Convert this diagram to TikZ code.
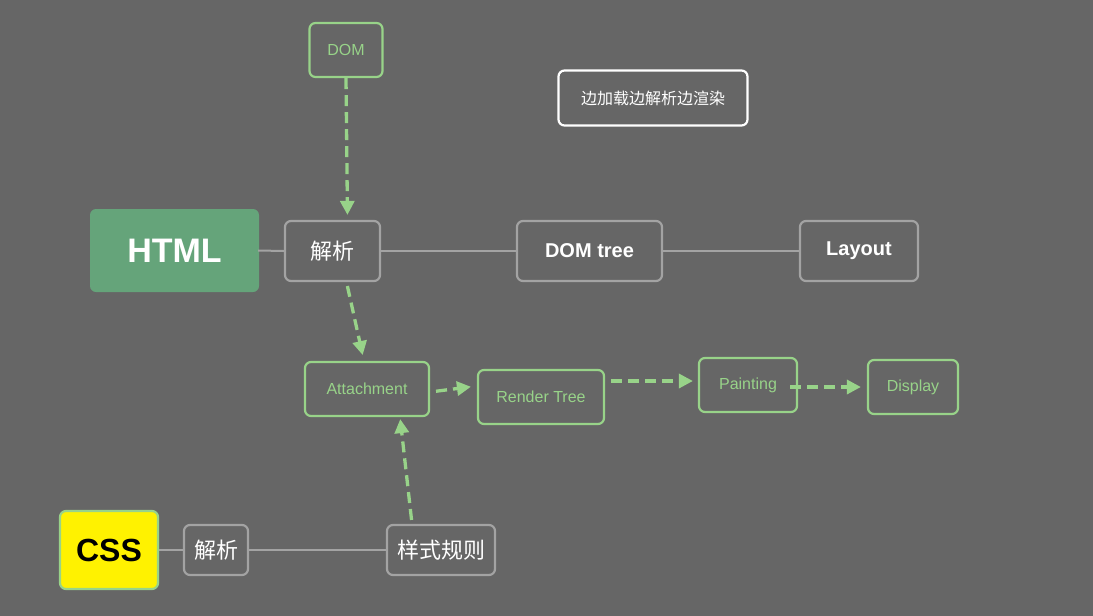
\documentclass[tikz,border=0pt]{standalone}
\usepackage{fontspec}
\setmainfont{Liberation Sans}
\newfontfamily\cjk{Noto Sans CJK SC}
\usetikzlibrary{arrows.meta,calc}
\definecolor{bg}{HTML}{666666}
\definecolor{grn}{HTML}{98D389}
\definecolor{gry}{HTML}{A3A3A3}
\definecolor{htmlfill}{HTML}{65A47A}
\tikzset{
  box/.style={draw=gry,line width=2.2pt,rounded corners=6pt,inner sep=0pt,text=white},
  gbox/.style={draw=grn,line width=2.2pt,rounded corners=6pt,inner sep=0pt,text=grn,font=\fontsize{16}{18}\selectfont},
  link/.style={draw=gry,line width=2pt},
  flow/.style={draw=grn,line width=3.3pt,dash pattern=on 11pt off 6pt,-{Triangle[length=14pt,width=14pt]}},
}
\begin{document}
\begin{tikzpicture}[x=1pt,y=-1pt]
\fill[bg] (0,0) rectangle (1093,616);
\useasboundingbox (0,0) rectangle (1093,616);
% nodes
\node[gbox,minimum width=73pt,minimum height=54pt] (dom) at (346,50) {DOM};
\node[draw=white,line width=2.2pt,rounded corners=6pt,minimum width=189pt,minimum height=55pt,text=white,font=\cjk\fontsize{16}{18}\selectfont] (note) at (653,98) {边加载边解析边渲染};
\node[fill=htmlfill,rounded corners=6pt,minimum width=169pt,minimum height=83pt,text=white,font=\bfseries\fontsize{34}{38}\selectfont] (html) at (174.5,250.5) {HTML};
\node[box,minimum width=95pt,minimum height=60pt,font=\cjk\fontsize{22}{24}\selectfont] (jx1) at (332.5,251) {解析};
\node[box,minimum width=145pt,minimum height=60pt,font=\bfseries\fontsize{20}{22}\selectfont] (domtree) at (589.5,251) {DOM tree};
\node[box,minimum width=118pt,minimum height=60pt,font=\bfseries\fontsize{20}{22}\selectfont] (layout) at (859,251) {Layout};
\node[gbox,minimum width=124pt,minimum height=54pt] (att) at (367,389) {Attachment};
\node[gbox,minimum width=126pt,minimum height=54pt] (rt) at (541,397) {Render Tree};
\node[gbox,minimum width=98pt,minimum height=54pt] (paint) at (748,385) {Painting};
\node[gbox,minimum width=90pt,minimum height=54pt] (disp) at (913,387) {Display};
\node[fill=yellow,draw=grn,line width=2.2pt,rounded corners=6pt,minimum width=98pt,minimum height=78pt,text=black,font=\bfseries\fontsize{32}{36}\selectfont] (css) at (109,550) {CSS};
\node[box,minimum width=64pt,minimum height=50pt,font=\cjk\fontsize{22}{24}\selectfont] (jx2) at (216,550) {解析};
\node[box,minimum width=108pt,minimum height=50pt,font=\cjk\fontsize{22}{24}\selectfont] (rules) at (441,550) {样式规则};
% gray links
\draw[link] ([xshift=-1pt]html.east) -- (jx1.west);
\draw[link] (jx1.east) -- (domtree.west);
\draw[link] (domtree.east) -- (layout.west);
\draw[link] (css.east) -- (jx2.west);
\draw[link] (jx2.east) -- (rules.west);
% green flows
\draw[flow,shorten >=5pt] (dom.south) -- ([xshift=15pt]jx1.north);
\draw[flow,shorten <=4pt,shorten >=6pt] ([xshift=14pt]jx1.south) -- ([xshift=-3pt]att.north);
\draw[flow,shorten <=6pt,shorten >=6pt] ([yshift=-3pt]att.east) -- ([yshift=11pt]rt.west);
\draw[flow,shorten <=6pt,shorten >=5pt] ([yshift=16pt]rt.east) -- ([yshift=4pt]paint.west);
\draw[flow,shorten <=-8pt,shorten >=6pt] ([yshift=-2pt]paint.east) -- (disp.west);
\draw[flow,shorten <=4pt,shorten >=2pt] ([xshift=-29pt]rules.north) -- ([xshift=33pt]att.south);
\end{tikzpicture}
\end{document}
